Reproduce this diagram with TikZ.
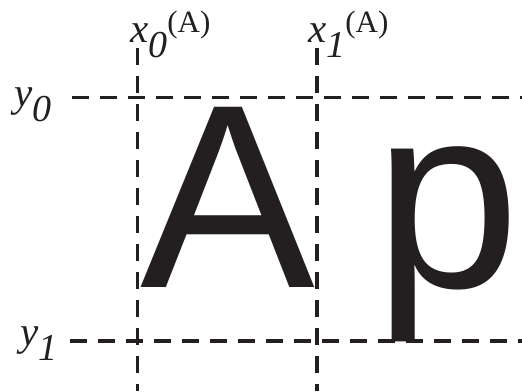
\documentclass[tikz,border=0pt]{standalone}
\usepackage{fontspec}
\setmainfont{Liberation Serif}
\newfontfamily\glyphfont{Liberation Sans}
\definecolor{inkblack}{HTML}{231F20}
\newcommand{\guidelab}[2]{\fontsize{41}{41}\selectfont\itshape #1\raisebox{-15.5pt}{\fontsize{38}{38}\selectfont #2}}
\newcommand{\guidelabA}[2]{\guidelab{#1}{#2}\raisebox{10pt}{\fontsize{31}{31}\selectfont\upshape (A)}}

\begin{document}
\begin{tikzpicture}[x=1pt, y=-1pt, color=inkblack,
    guide/.style={line width=3.3pt, dash pattern=on 17pt off 11pt},
    glyph/.style={inner sep=0pt, anchor=base west, font=\glyphfont\fontsize{262}{262}\selectfont},
    coordlabel/.style={inner sep=0pt, anchor=base west}]
        \useasboundingbox (0,0) rectangle (522,391);

        % Glyphs
        \node (glyphA) [glyph] at (140.5,287) {A};
        \node (glyphp) [glyph] at (374.4,287) {p};

        % Guide line ends
        \coordinate (x0top) at (137.5,48);
        \coordinate (x0bot) at (137.5,391);
        \coordinate (x1top) at (317,48);
        \coordinate (x1bot) at (317,391);
        \coordinate (y0left) at (72,97.5);
        \coordinate (y0right) at (522,97.5);
        \coordinate (y1left) at (70,341);
        \coordinate (y1right) at (522,341);

        % Guides
        \draw[guide] (x0top) -- (x0bot);
        \draw[guide] (x1top) -- (x1bot);
        \draw[guide] (y0left) -- (y0right);
        \draw[guide] (y1left) -- (y1right);

        % Labels
        \node (labx0) [coordlabel] at (130,42) {\guidelabA{x}{0}};
        \node (labx1) [coordlabel] at (308,42) {\guidelabA{x}{1}};
        \node (laby0) [coordlabel] at (14,106) {\guidelab{y}{0}};
        \node (laby1) [coordlabel] at (20,345) {\guidelab{y}{1}};
    \end{tikzpicture}
\end{document}
